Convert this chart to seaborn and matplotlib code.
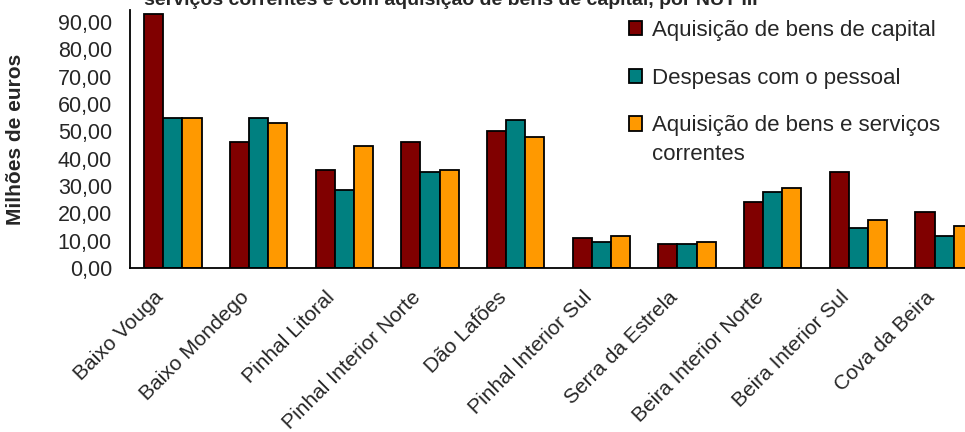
import matplotlib
matplotlib.use("Agg")
import matplotlib.pyplot as plt
import matplotlib.transforms as mtransforms
import seaborn as sns
import numpy as np
import pandas as pd

# data (millions of euros)
regioes = ["Baixo Vouga", "Baixo Mondego", "Pinhal Litoral", "Pinhal Interior Norte",
           "Dão Lafões", "Pinhal Interior Sul", "Serra da Estrela",
           "Beira Interior Norte", "Beira Interior Sul", "Cova da Beira"]
bens_capital = [93.0, 46.1, 35.9, 46.1, 50.0, 11.0, 8.8, 24.1, 35.1, 20.5]
pessoal = [55.0, 55.0, 28.5, 35.1, 54.2, 9.5, 8.8, 27.8, 14.6, 11.7]
bens_servicos = [55.0, 53.0, 44.6, 35.9, 47.9, 11.7, 9.5, 29.3, 17.6, 15.4]

series = ["Aquisição de bens de capital", "Despesas com o pessoal",
          "Aquisição de bens e serviços"]
cores = ["#800000", "#008080", "#FF9900"]

df = pd.DataFrame({
    "Regiao": regioes * 3,
    "Serie": [s for s in series for _ in regioes],
    "Valor": bens_capital + pessoal + bens_servicos,
})

sns.set_style("white")
plt.rcParams["font.family"] = ["Liberation Sans", "DejaVu Sans"]

fig = plt.figure(figsize=(9.65, 4.32), dpi=100)
# the plot area runs past the right edge of the image, like the original
ax = fig.add_axes([130 / 965, 1 - 268 / 432, 857 / 965, 258 / 432])

sns.barplot(data=df, x="Regiao", y="Valor", hue="Serie", palette=cores, saturation=1,
            width=0.67, gap=0, edgecolor="black", linewidth=1.3, ax=ax)

ax.set_xlim(-0.5, len(regioes) - 0.5)
ax.set_ylim(0, 94.4)
ax.set_yticks(np.arange(0, 91, 10))
ax.set_yticklabels([f"{v:.2f}".replace(".", ",") for v in np.arange(0, 91, 10)], fontsize=15.5)
ax.set_xticks(range(len(regioes)))
ax.set_xticklabels(regioes, rotation=45, ha="right", rotation_mode="anchor", fontsize=15)
ax.tick_params(axis="x", which="major", length=0, pad=14)
ax.set_xticks(np.arange(-0.5, len(regioes), 1), minor=True)
ax.tick_params(axis="x", which="minor", length=5, width=1, color="black", direction="out")
ax.tick_params(axis="y", length=6, width=1, color="black", direction="out", pad=7)

# nudge the slanted labels to the left, as in the original
shift = mtransforms.ScaledTranslation(-19 / 100, 0, fig.dpi_scale_trans)
for lab in ax.get_xticklabels():
    lab.set_transform(lab.get_transform() + shift)

for side in ["top", "right"]:
    ax.spines[side].set_visible(False)
for side in ["left", "bottom"]:
    ax.spines[side].set_color("black")
    ax.spines[side].set_linewidth(1.3)

ax.set_xlabel("")
ax.set_ylabel("Milhões de euros", fontsize=15, fontweight="bold")
ax.yaxis.set_label_coords(-105 / 857, 0.5)

leg = ax.legend(loc="upper left", bbox_to_anchor=(629 / 965, 1 - 20 / 432),
                bbox_transform=fig.transFigure, frameon=False, fontsize=16,
                handlelength=0.6, handleheight=0.6, handletextpad=0.45,
                labelspacing=1.2, borderpad=0, borderaxespad=0)
for h in leg.legend_handles:
    h.set_edgecolor("black")
    h.set_linewidth(1.3)
fig.text(652 / 965, 1 - 160 / 432, "correntes", fontsize=16, va="baseline")

# title is cut off at the top of the image in the original
fig.text(451 / 965, 1 - 5 / 432,
         "serviços correntes e com aquisição de bens de capital, por NUT III",
         ha="center", va="baseline", fontsize=14, fontweight="bold")

fig.savefig("out.png", dpi=100)
